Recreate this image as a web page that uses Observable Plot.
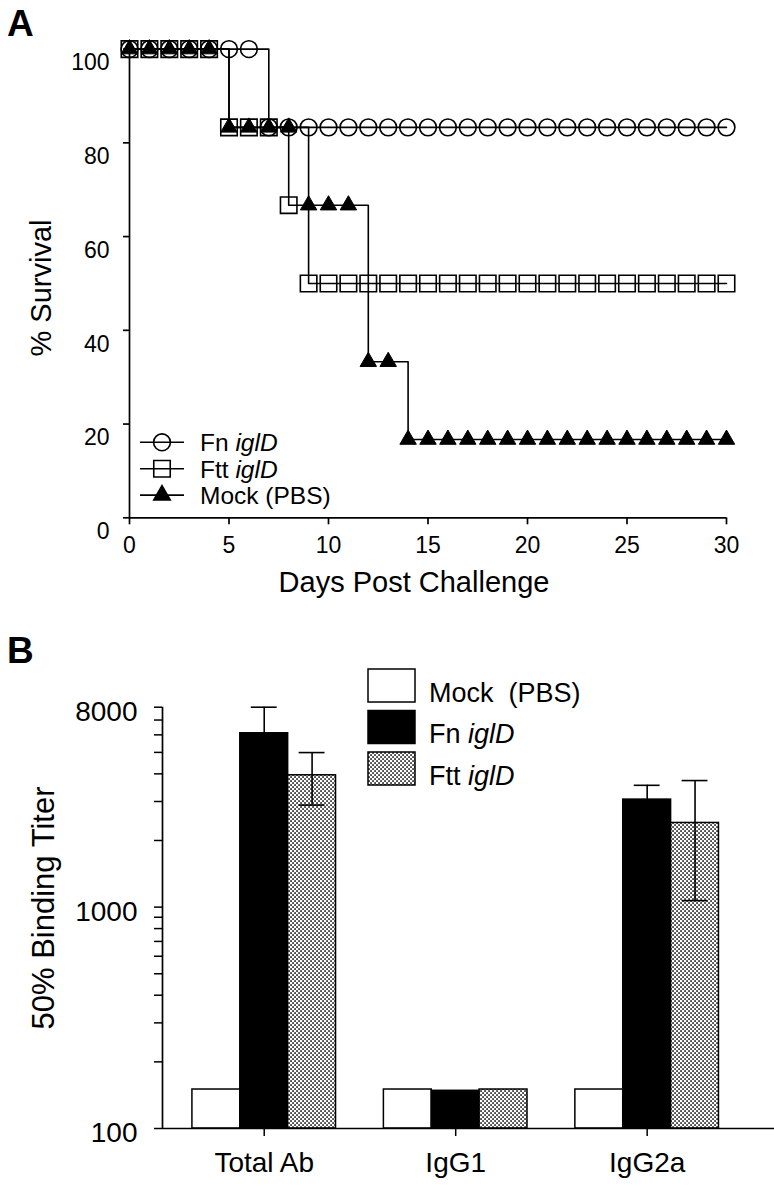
<!DOCTYPE html>
<html><head><meta charset="utf-8">
<script src="https://cdn.jsdelivr.net/npm/d3@7"></script>
<script src="https://cdn.jsdelivr.net/npm/@observablehq/plot@0.6"></script>
<style>
body{margin:0;background:#fff;}
#wrap{position:relative;width:774px;height:1190px;overflow:hidden;background:#fff;}
#wrap > svg{display:block;}
#overlay{position:absolute;left:0;top:0;pointer-events:none;}
</style></head><body><div id="wrap"></div>
<script>
// ---------- Panel A data ----------
const days = [0,1,2,3,4,5,6,7,8,9,10,11,12,13,14,15,16,17,18,19,20,21,22,23,24,25,26,27,28,29,30];
const fnIglD   = [100,100,100,100,100,100,100,83.3,83.3,83.3,83.3,83.3,83.3,83.3,83.3,83.3,83.3,83.3,83.3,83.3,83.3,83.3,83.3,83.3,83.3,83.3,83.3,83.3,83.3,83.3,83.3];
const fttIglD  = [100,100,100,100,100,83.3,83.3,83.3,66.7,50,50,50,50,50,50,50,50,50,50,50,50,50,50,50,50,50,50,50,50,50,50];
const mockPBS  = [100,100,100,100,100,83.3,83.3,83.3,83.3,66.7,66.7,66.7,33.3,33.3,16.7,16.7,16.7,16.7,16.7,16.7,16.7,16.7,16.7,16.7,16.7,16.7,16.7,16.7,16.7,16.7,16.7];
const seriesNamesA = ["Fn iglD", "Ftt iglD", "Mock (PBS)"];
const xTicksA = [0,5,10,15,20,25,30];
const yTicksA = [0,20,40,60,80,100];

// ---------- Panel B data ----------
const groups = ["Total Ab", "IgG1", "IgG2a"];
const seriesNamesB = ["Mock (PBS)", "Fn iglD", "Ftt iglD"];
const mockTiter = [150, 150, 150];
const mockErr   = [0, 0, 0];
const fnTiter   = [6100, 148, 3060];
const fnErr     = [1900, 0, 490];
const fttTiter  = [3940, 150, 2400];
const fttErr    = [1050, 0, 1330];
const yTicksB  = [100,200,300,400,500,600,700,800,900,1000,2000,3000,4000,5000,6000,7000,8000];
const yLabelsB = [100,1000,8000];

const FONT = "'Liberation Sans', Arial, Helvetica, sans-serif";
const wrap = document.getElementById("wrap");

// ---------- Panel A ----------
const survival = [];
[fnIglD, fttIglD, mockPBS].forEach((vals, k) => vals.forEach((v, i) => survival.push({series: seriesNamesA[k], day: days[i], pct: v})));
const bySeries = name => survival.filter(d => d.series === name);

const plotA = Plot.plot({
  width: 774, height: 610,
  marginLeft: 129, marginRight: 48, marginTop: 48.6, marginBottom: 92.7,
  x: {domain: [0, 30], label: null},
  y: {domain: [0, 100], label: null},
  style: {fontFamily: FONT, color: "#000", background: "transparent", overflow: "visible"},
  marks: [
    Plot.ruleY([0], {stroke: "#000", strokeWidth: 1.7}),
    Plot.ruleX([0], {stroke: "#000", strokeWidth: 1.7}),
    Plot.axisX(xTicksA, {tickSize: 7, fill: "none", strokeWidth: 1.7, label: null}),
    Plot.axisX(xTicksA, {tickSize: 0, tickPadding: 19, stroke: "none", fontSize: 23, label: null}),
    Plot.axisY(yTicksA, {tickSize: 6, fill: "none", strokeWidth: 1.7, label: null}),
    Plot.text(yTicksA, {y: d => d, text: d => String(d), frameAnchor: "left", textAnchor: "end", dx: -20, dy: 14, fontSize: 23}),
    Plot.line(survival, {x: "day", y: "pct", z: "series", curve: "step-after", stroke: "#000", strokeWidth: 1.6}),
    Plot.dot(bySeries("Fn iglD"), {x: "day", y: "pct", symbol: "circle", r: 8.4, fill: "none", stroke: "#000", strokeWidth: 1.6}),
    Plot.dot(bySeries("Ftt iglD"), {x: "day", y: "pct", symbol: "square", r: 9.3, fill: "none", stroke: "#000", strokeWidth: 1.6}),
    Plot.dot(bySeries("Mock (PBS)"), {x: "day", y: "pct", symbol: "triangle", r: 6.1, fill: "#000", stroke: "#000", strokeWidth: 1})
  ]
});
wrap.appendChild(plotA);

// ---------- Panel B ----------
const seriesB = [
  {name: seriesNamesB[0], values: mockTiter, errors: mockErr},
  {name: seriesNamesB[1], values: fnTiter, errors: fnErr},
  {name: seriesNamesB[2], values: fttTiter, errors: fttErr}
];
const bars = [];
groups.forEach((g, gi) => seriesB.forEach((s, si) => bars.push({group: g, series: s.name, pos: gi * 4 + si, value: s.values[gi], err: s.errors[gi]})));
const errBars = bars.filter(d => d.err > 0);
const groupCenters = groups.map((g, gi) => ({group: g, center: gi * 4 + 1}));
const xDomainB = [-1.125, 11.66];
const yDomainB = [100, 8000];
const barsOf = name => bars.filter(d => d.series === name);
const capHalf = 0.27;

const plotB = Plot.plot({
  width: 774, height: 580,
  marginLeft: 162, marginRight: 0, marginTop: 96.7, marginBottom: 62,
  x: {domain: xDomainB, label: null},
  y: {type: "log", domain: yDomainB, label: null},
  style: {fontFamily: FONT, color: "#000", background: "transparent", overflow: "visible"},
  marks: [
    Plot.rect(barsOf("Mock (PBS)"), {x1: d => d.pos - 0.5, x2: d => d.pos + 0.5, y1: yDomainB[0], y2: "value", fill: "#fff", stroke: "#000", strokeWidth: 1.5}),
    Plot.rect(barsOf("Fn iglD"), {x1: d => d.pos - 0.5, x2: d => d.pos + 0.5, y1: yDomainB[0], y2: "value", fill: "#000", stroke: "#000", strokeWidth: 1.5}),
    Plot.rect(barsOf("Ftt iglD"), {x1: d => d.pos - 0.5, x2: d => d.pos + 0.5, y1: yDomainB[0], y2: "value", fill: "url(#dotsB)", stroke: "#000", strokeWidth: 1.5}),
    Plot.ruleX(errBars, {x: "pos", y1: d => d.value - d.err, y2: d => d.value + d.err, stroke: "#000", strokeWidth: 1.6}),
    Plot.ruleY(errBars, {y: d => d.value + d.err, x1: d => d.pos - capHalf, x2: d => d.pos + capHalf, stroke: "#000", strokeWidth: 1.6}),
    Plot.ruleY(errBars, {y: d => d.value - d.err, x1: d => d.pos - capHalf, x2: d => d.pos + capHalf, stroke: "#000", strokeWidth: 1.6}),
    Plot.ruleY([yDomainB[0]], {stroke: "#000", strokeWidth: 1.7}),
    Plot.ruleX([xDomainB[0]], {stroke: "#000", strokeWidth: 1.7}),
    Plot.axisY(yTicksB, {tickSize: 8, fill: "none", strokeWidth: 1.5, label: null}),
    Plot.text(yLabelsB, {y: d => d, text: d => String(d), frameAnchor: "left", textAnchor: "end", dx: -25, dy: 5, fontSize: 28}),
    Plot.axisX(groupCenters.map(d => d.center), {tickSize: 8, fill: "none", strokeWidth: 1.5, label: null}),
    Plot.text(groupCenters, {x: "center", text: "group", frameAnchor: "bottom", lineAnchor: "middle", dy: 35, fontSize: 28})
  ]
});
wrap.appendChild(plotB);

function addDots(svgSel, id) {
  const defs = svgSel.insert("defs", ":first-child");
  const p = defs.append("pattern").attr("id", id).attr("width", 4).attr("height", 4).attr("patternUnits", "userSpaceOnUse");
  p.append("rect").attr("width", 4).attr("height", 4).attr("fill", "#fff");
  p.append("rect").attr("x", 0.2).attr("y", 0.2).attr("width", 1.7).attr("height", 1.7).attr("fill", "#222");
  p.append("rect").attr("x", 2.2).attr("y", 2.2).attr("width", 1.7).attr("height", 1.7).attr("fill", "#222");
}
addDots(d3.select(plotB), "dotsB");

// ---------- Overlay: panel letters, axis titles, legends ----------
const ov = d3.select(wrap).append("svg").attr("id", "overlay").attr("width", 774).attr("height", 1190)
  .style("font-family", FONT);
addDots(ov, "dotsL");

ov.append("text").attr("x", 7).attr("y", 36).attr("font-size", 37).attr("font-weight", "bold").text("A");
ov.append("text").attr("x", 7).attr("y", 663).attr("font-size", 37).attr("font-weight", "bold").text("B");

ov.append("text").attr("transform", "translate(51,288) rotate(-90)").attr("text-anchor", "middle").attr("font-size", 29).text("% Survival");
ov.append("text").attr("x", 414).attr("y", 592).attr("text-anchor", "middle").attr("font-size", 29).text("Days Post Challenge");
ov.append("text").attr("transform", "translate(54,908) rotate(-90)").attr("text-anchor", "middle").attr("font-size", 31).text("50% Binding Titer");

function labelWithItalic(sel, name) {
  const parts = name.split(" ");
  if (parts[1] === "iglD") {
    sel.append("tspan").text(parts[0] + " ");
    sel.append("tspan").attr("font-style", "italic").text(parts[1]);
  } else {
    sel.text(name);
  }
}

// Legend A
const symA = [d3.symbolCircle, d3.symbolSquare, d3.symbolTriangle];
const symR = [8.4, 9.3, 6.1];
seriesNamesA.forEach((name, i) => {
  const cy = 442.3 + i * 26.4;
  const g = ov.append("g");
  g.append("line").attr("x1", 140).attr("x2", 184).attr("y1", cy).attr("y2", cy).attr("stroke", "#000").attr("stroke-width", 1.6);
  g.append("path").attr("transform", `translate(162,${cy})`)
    .attr("d", d3.symbol(symA[i], symR[i] * symR[i] * Math.PI)())
    .attr("fill", i === 2 ? "#000" : "none").attr("stroke", "#000").attr("stroke-width", 1.6);
  const t = g.append("text").attr("x", 200).attr("y", cy + 9).attr("font-size", 24.5);
  labelWithItalic(t, name);
});

// Legend B
const fillsB = ["#fff", "#000", "url(#dotsL)"];
seriesNamesB.forEach((name, i) => {
  const top = 669 + i * 41.5;
  ov.append("rect").attr("x", 368).attr("y", top).attr("width", 47).attr("height", 33)
    .attr("fill", fillsB[i]).attr("stroke", "#000").attr("stroke-width", 1.5);
  const t = ov.append("text").attr("x", 429).attr("y", top + 32.5).attr("font-size", 27).attr("xml:space", "preserve");
  labelWithItalic(t, name === "Mock (PBS)" ? "Mock  (PBS)" : name);
});
</script>
</body></html>
